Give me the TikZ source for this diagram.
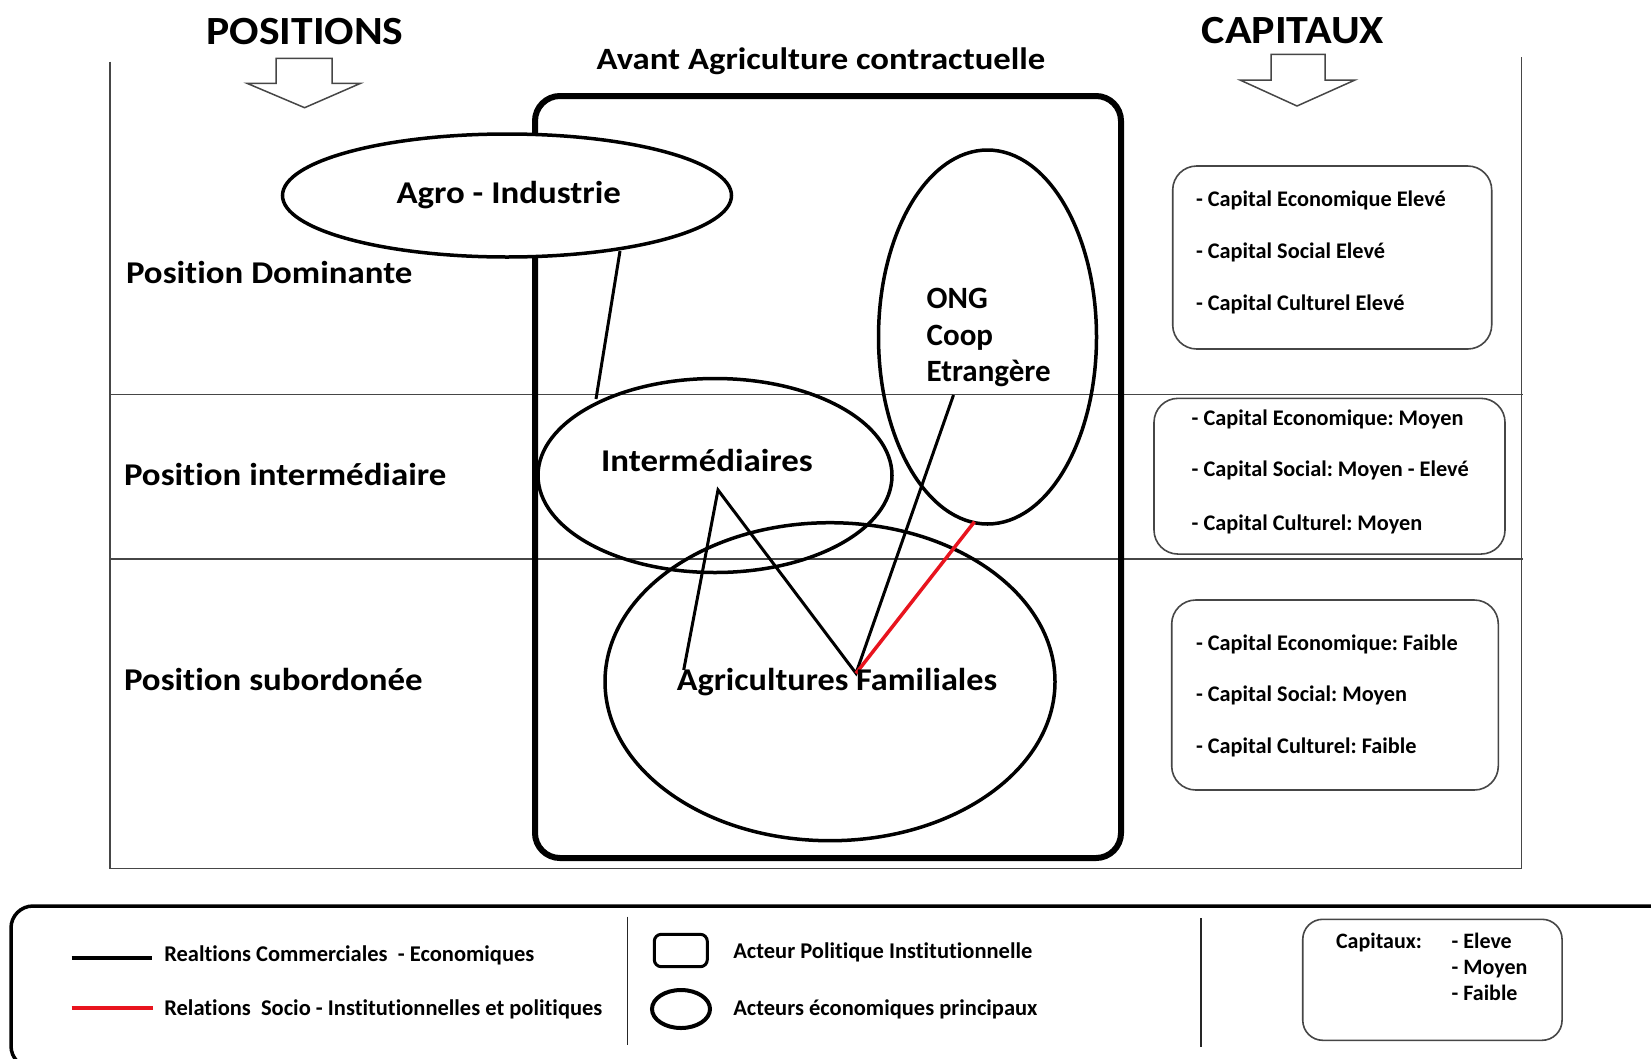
\documentclass[tikz,border=0pt]{standalone}
\usepackage{fontspec}
\setmainfont{Carlito}[RawFeature={-liga}]
\usetikzlibrary{shapes.geometric}
\frenchspacing
\newcommand\myfs[1]{\fontsize{#1pt}{#1pt}\selectfont\bfseries}
\newcommand\myhs[2]{\scalebox{#1}[1]{#2}}
\definecolor{relredc}{RGB}{232,20,30}
\definecolor{framec}{RGB}{70,70,70}
\tikzset{
  txt/.style={inner sep=0pt, outer sep=0pt},
  frameline/.style={draw=framec, line width=1.5pt},
  arrowline/.style={draw=framec, line width=1.5pt, line join=miter},
  actor/.style={draw, ellipse, line width=3.5pt, inner sep=0pt},
  inst/.style={draw, line width=6pt, rounded corners=25pt, inner sep=0pt},
  capbox/.style={draw=framec, line width=1.6pt, rounded corners=24pt, inner sep=0pt},
  rel/.style={line width=3pt, black},
  relred/.style={line width=3.5pt, relredc},
}
\begin{document}
\begin{tikzpicture}[x=1pt,y=-1pt]
\useasboundingbox (0,0) rectangle (1651,1058);
\clip (0,0) rectangle (1651,1058);
\fill[white] (0,0) rectangle (1651,1058);

% frame
\draw[frameline] (110,61.7) -- (110,868.3) -- (1521.7,868.3) -- (1521.7,57);
\draw[frameline] (110,394.3) -- (1523,394.3);
\draw[frameline] (110,558.8) -- (1523,558.8);

% block arrows
\draw[arrowline] (276,58.3) -- (332,58.3) -- (332,83.3) -- (360.6,83.3) -- (304.6,107.7) -- (247,83.3) -- (276,83.3) -- cycle;
\draw[arrowline] (1271,54.3) -- (1325,54.3) -- (1325,80) -- (1355,80) -- (1297,106) -- (1240,80) -- (1271,80) -- cycle;

% titles
\node[txt, anchor=base, font=\myfs{40}] (tpos) at (305,44) {\myhs{1.09}{POSITIONS}};
\node[txt, anchor=base, font=\myfs{40}] (tcap) at (1293,43.5) {\myhs{1.1}{CAPITAUX}};
\node[txt, anchor=base, font=\myfs{31}] (tavant) at (821,69) {\myhs{1.12}{Avant Agriculture contractuelle}};

% institutional frame
\node[inst, minimum width=586pt, minimum height=762pt] (inst) at (828,477) {};

% actors
\node[actor, fill=white, minimum width=449pt, minimum height=123pt] (agro) at (507,195.5) {};
\node[actor, minimum width=354pt, minimum height=194pt] (inter) at (715,475.5) {};
\node[actor, minimum width=218pt, minimum height=374pt] (ong) at (987.5,337) {};
\node[actor, minimum width=450pt, minimum height=318pt] (agri) at (830,681.7) {};

% connector points
\coordinate (agroFoot) at (620,251);
\coordinate (interTop) at (596,399);
\coordinate (afA) at (683.7,670);
\coordinate (interIn) at (718,490);
\coordinate (afF) at (856,673.3);
\coordinate (ongIn) at (953.5,395);
\coordinate (ongFoot) at (974.5,521.7);

\draw[rel] (agroFoot) -- (interTop);
\draw[rel] (afA) -- (interIn) -- (afF) -- (ongIn);
\draw[relred] (afF) -- (ongFoot);

% actor labels
\node[txt, anchor=base, font=\myfs{31.7}] (lagro) at (508.7,203) {\myhs{1.1}{Agro - Industrie}};
\node[txt, anchor=base, font=\myfs{31.7}] (linter) at (707,471.7) {\myhs{1.1}{Intermédiaires}};
\node[txt, anchor=base, font=\myfs{31.7}] (lagri) at (837,690) {\myhs{1.08}{Agricultures Familiales}};
\node[txt, anchor=base west, font=\myfs{31}] (long1) at (926.7,308.3) {ONG};
\node[txt, anchor=base west, font=\myfs{31}] (long2) at (926.7,345) {Coop};
\node[txt, anchor=base west, font=\myfs{31}] (long3) at (926.7,381.7) {Etrangère};

% position labels
\node[txt, anchor=base west, font=\myfs{31.7}] (pdom) at (126,283) {\myhs{1.1}{Position Dominante}};
\node[txt, anchor=base west, font=\myfs{31.7}] (pint) at (124,485) {\myhs{1.1}{Position intermédiaire}};
\node[txt, anchor=base west, font=\myfs{31.7}] (psub) at (124,690) {\myhs{1.1}{Position subordonée}};

% capital boxes
\node[capbox, minimum width=319pt, minimum height=183pt] (box1) at (1332.2,257.5) {};
\node[capbox, minimum width=351pt, minimum height=155.7pt] (box2) at (1329.5,476.2) {};
\node[capbox, minimum width=326.6pt, minimum height=190pt] (box3) at (1335,695) {};

\node[txt, anchor=base west, font=\myfs{22.3}] (c11) at (1196,206) {- Capital Economique Elevé};
\node[txt, anchor=base west, font=\myfs{22.3}] (c12) at (1196,258.3) {- Capital Social Elevé};
\node[txt, anchor=base west, font=\myfs{22.3}] (c13) at (1196,310) {- Capital Culturel Elevé};
\node[txt, anchor=base west, font=\myfs{22.3}] (c21) at (1191.7,425) {- Capital Economique: Moyen};
\node[txt, anchor=base west, font=\myfs{22.3}] (c22) at (1191.7,476.7) {- Capital Social: Moyen - Elevé};
\node[txt, anchor=base west, font=\myfs{22.3}] (c23) at (1191.7,530) {- Capital Culturel: Moyen};
\node[txt, anchor=base west, font=\myfs{22.3}] (c31) at (1196,650) {- Capital Economique: Faible};
\node[txt, anchor=base west, font=\myfs{22.3}] (c32) at (1196,701.7) {- Capital Social: Moyen};
\node[txt, anchor=base west, font=\myfs{22.3}] (c33) at (1196,753.3) {- Capital Culturel: Faible};

% legend
\draw[line width=3.5pt, rounded corners=22pt] (11,906) rectangle (1720,1068);
\coordinate (k1a) at (71.7,957.7);
\coordinate (k1b) at (151.7,957.7);
\coordinate (k2a) at (71.7,1008.3);
\coordinate (k2b) at (152.7,1008.3);
\draw[line width=4pt] (k1a) -- (k1b);
\draw[line width=4pt, relredc] (k2a) -- (k2b);
\node[txt, anchor=base west, font=\myfs{22.5}] (lg1) at (164.3,961) {Realtions Commerciales\ \ - Economiques};
\node[txt, anchor=base west, font=\myfs{22.5}] (lg2) at (164.3,1015) {Relations\ \ Socio - Institutionnelles et politiques};
\draw[draw=black!85, line width=1.5pt] (627.7,916.7) -- (627.7,1045);
\node[draw, line width=3pt, rounded corners=7pt, inner sep=0pt, minimum width=53pt, minimum height=32.4pt] (iconinst) at (680.8,950.5) {};
\node[actor, line width=4pt, minimum width=58pt, minimum height=38pt] (iconact) at (681,1009) {};
\node[txt, anchor=base west, font=\myfs{22.5}] (lg3) at (733.3,958.3) {Acteur Politique Institutionnelle};
\node[txt, anchor=base west, font=\myfs{22.5}] (lg4) at (733.3,1015) {Acteurs économiques principaux};
\draw[draw=black!85, line width=1.5pt] (1201,918.3) -- (1201,1046.7);
\node[capbox, rounded corners=20pt, minimum width=259.3pt, minimum height=121pt] (lgbox) at (1432.4,979.8) {};
\node[txt, anchor=base west, font=\myfs{22}] (lgcap) at (1336,948.3) {Capitaux:};
\node[txt, anchor=base west, font=\myfs{22}] (lge) at (1451.7,948.3) {- Eleve};
\node[txt, anchor=base west, font=\myfs{22}] (lgm) at (1451.7,974.3) {- Moyen};
\node[txt, anchor=base west, font=\myfs{22}] (lgf) at (1451.7,1000) {- Faible};
\end{tikzpicture}
\end{document}
